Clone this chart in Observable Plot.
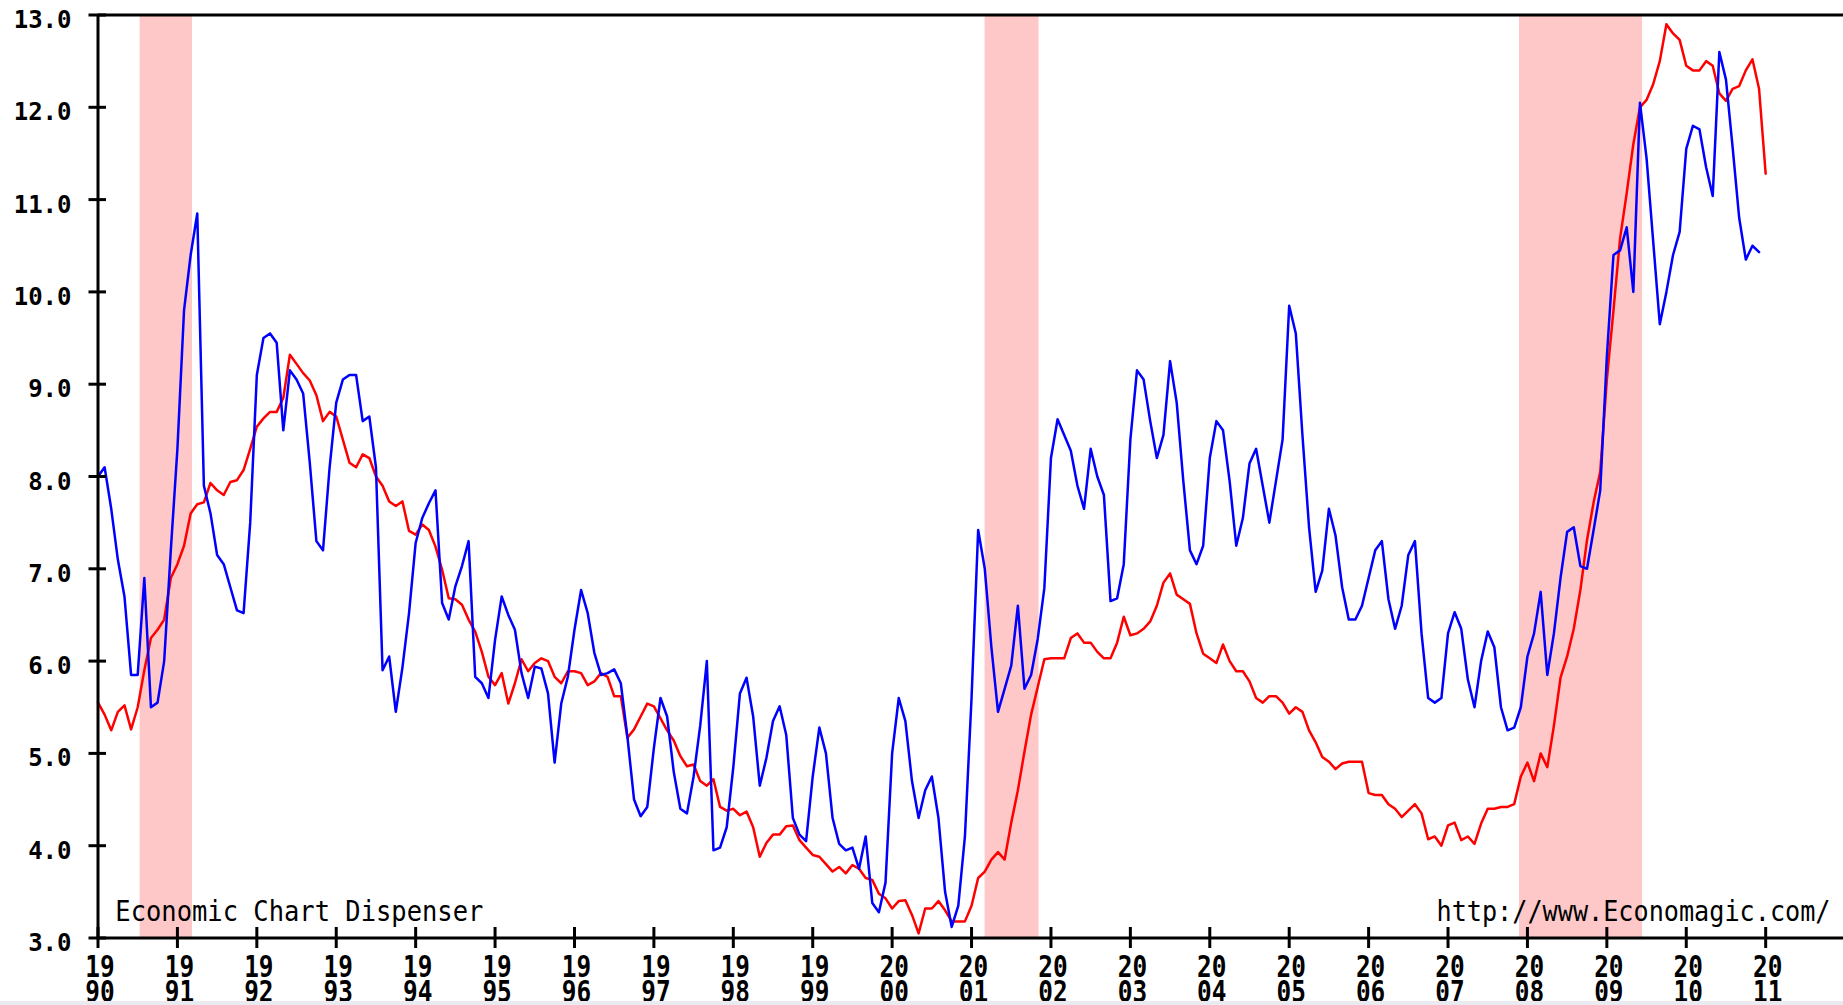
<!DOCTYPE html>
<html><head><meta charset="utf-8">
<script src="https://cdn.jsdelivr.net/npm/d3@7"></script>
<script src="https://cdn.jsdelivr.net/npm/@observablehq/plot@0.6"></script>
<style>
html,body{margin:0;padding:0;background:#fff;overflow:hidden;}
#chart svg{display:block;}
#strip{position:fixed;left:0;right:0;bottom:0;height:4px;background:#e9ebf0;}
</style></head><body><div id="chart"></div><div id="strip"></div>
<script>
const startYear = 1990;
const blueSeries = [
  8.0, 8.1, 7.65, 7.1, 6.7, 5.85, 5.85, 6.9, 5.5, 5.55, 6.0, 7.2,
  8.3, 9.8, 10.4, 10.85, 7.9, 7.6, 7.15, 7.05, 6.8, 6.55, 6.52, 7.5,
  9.1, 9.5, 9.55, 9.45, 8.5, 9.15, 9.05, 8.9, 8.15, 7.3, 7.2, 8.1,
  8.8, 9.05, 9.1, 9.1, 8.6, 8.65, 8.1, 5.9, 6.05, 5.45, 5.93, 6.52,
  7.28, 7.55, 7.71, 7.85, 6.63, 6.45, 6.81, 7.03, 7.3, 5.83, 5.76, 5.6,
  6.23, 6.7, 6.5, 6.34, 5.87, 5.6, 5.94, 5.92, 5.65, 4.9, 5.54, 5.83,
  6.34, 6.77, 6.52, 6.09, 5.85, 5.87, 5.91, 5.76, 5.18, 4.5, 4.32, 4.42,
  5.06, 5.6, 5.4, 4.8, 4.4, 4.35, 4.75, 5.3, 6.0, 3.95, 3.98, 4.2,
  4.85, 5.65, 5.82, 5.4, 4.65, 4.95, 5.35, 5.51, 5.2, 4.3, 4.12, 4.05,
  4.75, 5.28, 5.0, 4.3, 4.02, 3.95, 3.98, 3.75, 4.1, 3.38, 3.28, 3.6,
  5.0, 5.6, 5.35, 4.7, 4.3, 4.6, 4.75, 4.3, 3.5, 3.12, 3.35, 4.1,
  5.6, 7.42, 7.0, 6.15, 5.45, 5.7, 5.95, 6.6, 5.7, 5.85, 6.24, 6.79,
  8.2, 8.62, 8.45, 8.28, 7.9, 7.65, 8.3, 8.0, 7.8, 6.65, 6.68, 7.05,
  8.4, 9.15, 9.05, 8.6, 8.2, 8.45, 9.25, 8.8, 7.95, 7.2, 7.05, 7.25,
  8.2, 8.6, 8.5, 7.95, 7.25, 7.55, 8.14, 8.3, 7.9, 7.5, 7.95, 8.4,
  9.85, 9.55, 8.45, 7.45, 6.75, 6.98, 7.65, 7.36, 6.8, 6.45, 6.45, 6.6,
  6.9, 7.2, 7.3, 6.67, 6.35, 6.6, 7.15, 7.3, 6.3, 5.6, 5.55, 5.6,
  6.3, 6.53, 6.35, 5.8, 5.5, 6.0, 6.32, 6.15, 5.5, 5.25, 5.28, 5.5,
  6.05, 6.3, 6.75, 5.85, 6.3, 6.9, 7.4, 7.45, 7.03, 7.0, 7.42, 7.85,
  9.3, 10.4, 10.45, 10.7, 10.0, 12.05, 11.45, 10.55, 9.65, 10.0, 10.4, 10.65,
  11.55, 11.8, 11.76, 11.35, 11.04, 12.6, 12.3, 11.57, 10.8, 10.35, 10.5, 10.43
];
const redSeries = [
  5.55, 5.42, 5.25, 5.45, 5.52, 5.26, 5.5, 5.9, 6.25, 6.34, 6.45, 6.9,
  7.05, 7.25, 7.6, 7.7, 7.72, 7.93, 7.85, 7.8, 7.94, 7.96, 8.07, 8.3,
  8.54, 8.63, 8.7, 8.7, 8.85, 9.32, 9.22, 9.12, 9.04, 8.88, 8.6, 8.7,
  8.65, 8.4, 8.15, 8.1, 8.24, 8.2, 8.0, 7.9, 7.73, 7.68, 7.73, 7.41,
  7.37, 7.48, 7.42, 7.24, 6.99, 6.68, 6.67, 6.61, 6.45, 6.32, 6.1, 5.83,
  5.74, 5.87, 5.54, 5.76, 6.02, 5.89, 5.98, 6.03, 6.0, 5.83, 5.76, 5.89,
  5.89, 5.87, 5.74, 5.78, 5.87, 5.83, 5.62, 5.62, 5.17, 5.26, 5.4, 5.54,
  5.51, 5.38, 5.25, 5.14, 4.97, 4.86, 4.88, 4.7, 4.65, 4.72, 4.42, 4.38,
  4.4, 4.33, 4.37, 4.2, 3.88, 4.03, 4.12, 4.12, 4.21, 4.22, 4.06, 3.98,
  3.9, 3.88, 3.8, 3.72, 3.77, 3.7, 3.79, 3.75, 3.65, 3.63, 3.48, 3.43,
  3.32, 3.4, 3.41, 3.25, 3.05, 3.32, 3.32, 3.4, 3.3, 3.18, 3.18, 3.18,
  3.35, 3.65, 3.72, 3.85, 3.93, 3.85, 4.25, 4.6, 5.02, 5.42, 5.72, 6.02,
  6.03, 6.03, 6.03, 6.25, 6.3, 6.2, 6.2, 6.1, 6.03, 6.03, 6.2, 6.48,
  6.28, 6.3, 6.35, 6.43, 6.6, 6.85, 6.95, 6.72, 6.67, 6.62, 6.3, 6.08,
  6.03, 5.98, 6.18, 6.0, 5.89, 5.89, 5.78, 5.6, 5.55, 5.62, 5.62, 5.55,
  5.43, 5.5, 5.45, 5.25, 5.12, 4.96, 4.91, 4.83, 4.89, 4.91, 4.91, 4.91,
  4.57, 4.55, 4.55, 4.45, 4.4, 4.31, 4.38, 4.45, 4.35, 4.07, 4.1, 4.0,
  4.22, 4.25, 4.06, 4.1, 4.02, 4.24, 4.4, 4.4, 4.42, 4.42, 4.45, 4.75,
  4.9, 4.7, 5.0, 4.85, 5.3, 5.82, 6.05, 6.35, 6.77, 7.31, 7.72, 8.05,
  9.05, 9.8, 10.58, 11.07, 11.6, 12.0, 12.08, 12.25, 12.5, 12.9, 12.8, 12.73,
  12.45, 12.4, 12.4, 12.5, 12.45, 12.15, 12.07, 12.2, 12.23, 12.4, 12.52, 12.2,
  11.28
];
const recessionStarts = [1990.53, 2001.17, 2007.9];
const recessionEnds = [1991.19, 2001.85, 2009.45];
const yTicks = [3, 4, 5, 6, 7, 8, 9, 10, 11, 12, 13];
const xTicks = [1990, 1991, 1992, 1993, 1994, 1995, 1996, 1997, 1998, 1999, 2000,
                2001, 2002, 2003, 2004, 2005, 2006, 2007, 2008, 2009, 2010, 2011];
const leftNote = "Economic Chart Dispenser";
const rightNote = "http://www.Economagic.com/";

const toRows = arr => arr.map((v, i) => ({t: startYear + i / 12, v}));
const recessions = recessionStarts.map((s, i) => ({s, e: recessionEnds[i]}));

const W = 1843, H = 1005;
const mL = 97.5, mT = 14.5, mB = 67.5, mR = 0;
const plotW = W - mL - mR, plotH = H - mT - mB;
const mono = "DejaVu Sans Mono, Liberation Mono, monospace";

const chart = Plot.plot({
  width: W, height: H,
  marginLeft: mL, marginTop: mT, marginBottom: mB, marginRight: mR,
  x: {type: "linear", domain: [1990, 2011.98], axis: null},
  y: {domain: [3, 13], axis: null},
  style: {background: "white", overflow: "visible"},
  marks: [
    Plot.rect(recessions, {x1: "s", x2: "e", y1: 3, y2: 13, fill: "#ffc8c8"}),
    Plot.line(toRows(redSeries), {x: "t", y: "v", stroke: "#ff0000", strokeWidth: 2.5}),
    Plot.line(toRows(blueSeries), {x: "t", y: "v", stroke: "#0000ff", strokeWidth: 2.5}),
    Plot.ruleY([3, 13], {stroke: "black", strokeWidth: 3}),
    Plot.ruleX([1990], {y1: 3, y2: 13, stroke: "black", strokeWidth: 3}),
    Plot.tickY(yTicks, {y: d => d, stroke: "black", strokeWidth: 3, insetLeft: -9, insetRight: plotW - 8.5}),
    Plot.tickX(xTicks, {x: d => d, stroke: "black", strokeWidth: 3, insetTop: plotH - 10.5, insetBottom: -10.5}),
    Plot.text(yTicks, {y: d => d, text: d => d.toFixed(1), frameAnchor: "left", textAnchor: "end",
      lineAnchor: "bottom", dx: -26.5, dy: 13, fontFamily: mono, fontWeight: "bold", fontSize: 24, fill: "black"}),
    Plot.text(xTicks, {x: d => d, text: d => String(d).slice(0, 2) + "\n" + String(d).slice(2),
      frameAnchor: "bottom", textAnchor: "middle", lineAnchor: "bottom", lineHeight: 25 / 30,
      dx: 2, dy: 63.5, fontFamily: mono, fontWeight: "bold", fontSize: 30, fill: "black"}),
    Plot.text([leftNote], {text: d => d, frameAnchor: "bottom-left", textAnchor: "start", lineAnchor: "bottom",
      dx: 17.3, dy: -17.5, fontFamily: mono, fontSize: 29, fill: "black"}),
    Plot.text([rightNote], {text: d => d, frameAnchor: "bottom-right", textAnchor: "end", lineAnchor: "bottom",
      dx: -13, dy: -17.5, fontFamily: mono, fontSize: 29, fill: "black"})
  ]
});

document.getElementById("chart").appendChild(chart);

// Narrow the tall bitmap-like lettering to the original's character width
d3.select(chart).selectAll("tspan").each(function () {
  if (/^\d\d$/.test(this.textContent)) {
    this.setAttribute("textLength", 29.4);
    this.setAttribute("lengthAdjust", "spacingAndGlyphs");
  }
});
d3.select(chart).selectAll("text").each(function () {
  const s = this.textContent;
  if (s === leftNote) {
    this.setAttribute("textLength", 368);
    this.setAttribute("lengthAdjust", "spacingAndGlyphs");
  } else if (s === rightNote) {
    this.setAttribute("textLength", 394);
    this.setAttribute("lengthAdjust", "spacingAndGlyphs");
  }
});
</script>
</body></html>
